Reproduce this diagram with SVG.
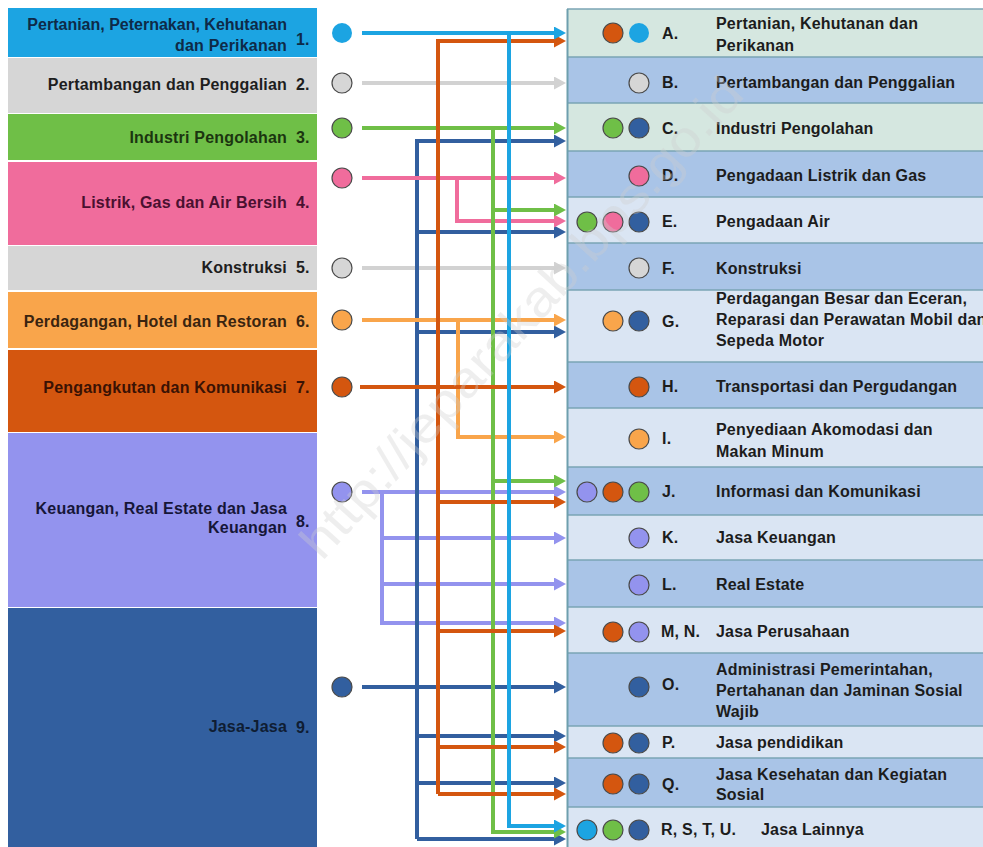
<svg xmlns="http://www.w3.org/2000/svg" width="983" height="847" viewBox="0 0 983 847">
<style>
text{font-family:"Liberation Sans",Arial,sans-serif;font-size:16px;font-weight:bold;letter-spacing:0.2px}
.lt{text-anchor:end}
.rt{fill:#1c1c1c}
.dot{stroke:#4a4a4a;stroke-width:1.2}
.ln{fill:none;stroke-width:4}
.sep{stroke:#7aa4b4;stroke-width:1.5}
.lg{fill:#d5e7e0}.lb{fill:#dae5f3}.bl{fill:#a9c4e7}
.c1{fill:#1ca4e2}.c2{fill:#d6d6d6}.c3{fill:#6fbf47}.c4{fill:#f06c9c}.c6{fill:#f9a54b}.c7{fill:#d4560f}.c8{fill:#9393ee}.c9{fill:#325f9f}
</style>
<defs>
<marker id="m1" markerUnits="userSpaceOnUse" markerWidth="13" markerHeight="13" refX="2" refY="6.5" orient="auto"><path d="M0,0 L12,6.5 L0,13 z" fill="#1ca4e2"/></marker>
<marker id="m2" markerUnits="userSpaceOnUse" markerWidth="13" markerHeight="13" refX="2" refY="6.5" orient="auto"><path d="M0,0 L12,6.5 L0,13 z" fill="#d2d2d2"/></marker>
<marker id="m3" markerUnits="userSpaceOnUse" markerWidth="13" markerHeight="13" refX="2" refY="6.5" orient="auto"><path d="M0,0 L12,6.5 L0,13 z" fill="#6fbf47"/></marker>
<marker id="m4" markerUnits="userSpaceOnUse" markerWidth="13" markerHeight="13" refX="2" refY="6.5" orient="auto"><path d="M0,0 L12,6.5 L0,13 z" fill="#f06c9c"/></marker>
<marker id="m6" markerUnits="userSpaceOnUse" markerWidth="13" markerHeight="13" refX="2" refY="6.5" orient="auto"><path d="M0,0 L12,6.5 L0,13 z" fill="#f9a54b"/></marker>
<marker id="m7" markerUnits="userSpaceOnUse" markerWidth="13" markerHeight="13" refX="2" refY="6.5" orient="auto"><path d="M0,0 L12,6.5 L0,13 z" fill="#d4560f"/></marker>
<marker id="m8" markerUnits="userSpaceOnUse" markerWidth="13" markerHeight="13" refX="2" refY="6.5" orient="auto"><path d="M0,0 L12,6.5 L0,13 z" fill="#9393ee"/></marker>
<marker id="m9" markerUnits="userSpaceOnUse" markerWidth="13" markerHeight="13" refX="2" refY="6.5" orient="auto"><path d="M0,0 L12,6.5 L0,13 z" fill="#325f9f"/></marker>
</defs>
<rect width="983" height="847" fill="#ffffff"/>

<!-- Left sectors -->
<g id="sector-1">
<rect x="8" y="8" width="309" height="49" class="c1"/>
<text class="lt" x="287" y="30" fill="#0e2a48" style="letter-spacing:0">Pertanian, Peternakan, Kehutanan</text>
<text class="lt" x="287" y="51" fill="#0e2a48">dan Perikanan</text>
<text x="296" y="45" fill="#0e2a48">1.</text>
<circle cx="342" cy="33" r="10" class="c1"/>
</g>
<g id="sector-2">
<rect x="8" y="58" width="309" height="55" class="c2"/>
<text class="lt" x="287" y="90" fill="#1e1e1e">Pertambangan dan Penggalian</text>
<text x="296" y="90" fill="#1e1e1e">2.</text>
<circle cx="342" cy="83" r="10" class="c2 dot"/>
</g>
<g id="sector-3">
<rect x="8" y="114" width="309" height="46" class="c3"/>
<text class="lt" x="287" y="143" fill="#1b3510">Industri Pengolahan</text>
<text x="296" y="143" fill="#1b3510">3.</text>
<circle cx="342" cy="128" r="10" class="c3 dot"/>
</g>
<g id="sector-4">
<rect x="8" y="162" width="309" height="83" class="c4"/>
<text class="lt" x="287" y="208" fill="#4a1030">Listrik, Gas dan Air Bersih</text>
<text x="296" y="208" fill="#4a1030">4.</text>
<circle cx="342" cy="178" r="10" class="c4 dot"/>
</g>
<g id="sector-5">
<rect x="8" y="246" width="309" height="44" class="c2"/>
<text class="lt" x="287" y="273" fill="#1e1e1e">Konstruksi</text>
<text x="296" y="273" fill="#1e1e1e">5.</text>
<circle cx="342" cy="268" r="10" class="c2 dot"/>
</g>
<g id="sector-6">
<rect x="8" y="292" width="309" height="56" class="c6"/>
<text class="lt" x="287" y="327" fill="#3a2410">Perdagangan, Hotel dan Restoran</text>
<text x="296" y="327" fill="#3a2410">6.</text>
<circle cx="342" cy="320" r="10" class="c6 dot"/>
</g>
<g id="sector-7">
<rect x="8" y="350" width="309" height="82" class="c7"/>
<text class="lt" x="287" y="393" fill="#3a1204">Pengangkutan dan Komunikasi</text>
<text x="296" y="393" fill="#3a1204">7.</text>
<circle cx="342" cy="387" r="10" class="c7 dot"/>
</g>
<g id="sector-8">
<rect x="8" y="433" width="309" height="174" class="c8"/>
<text class="lt" x="287" y="514" fill="#161638">Keuangan, Real Estate dan Jasa</text>
<text class="lt" x="287" y="533" fill="#161638">Keuangan</text>
<text x="296" y="527" fill="#161638">8.</text>
<circle cx="342" cy="492" r="10" class="c8 dot"/>
</g>
<g id="sector-9">
<rect x="8" y="608" width="309" height="239" class="c9"/>
<text class="lt" x="287" y="732" fill="#0f1d33">Jasa-Jasa</text>
<text x="296" y="733" fill="#0f1d33">9.</text>
<circle cx="342" cy="687" r="10" class="c9 dot"/>
</g>

<!-- Right rows -->
<g id="row-A">
<rect x="567" y="9" width="416" height="48" class="lg"/>
<circle cx="613" cy="33" r="10" class="c7 dot"/><circle cx="639" cy="33" r="10" class="c1"/>
<text class="rt" x="662" y="39">A.</text>
<text class="rt" x="716" y="29">Pertanian, Kehutanan dan</text>
<text class="rt" x="716" y="51">Perikanan</text>
</g>
<g id="row-B">
<rect x="567" y="57" width="416" height="46" class="bl"/>
<circle cx="639" cy="83" r="10" class="c2 dot"/>
<text class="rt" x="662" y="88">B.</text>
<text class="rt" x="716" y="88">Pertambangan dan Penggalian</text>
</g>
<g id="row-C">
<rect x="567" y="103" width="416" height="48" class="lg"/>
<circle cx="613" cy="128" r="10" class="c3 dot"/><circle cx="639" cy="128" r="10" class="c9 dot"/>
<text class="rt" x="662" y="134">C.</text>
<text class="rt" x="716" y="134">Industri Pengolahan</text>
</g>
<g id="row-D">
<rect x="567" y="151" width="416" height="46" class="bl"/>
<circle cx="639" cy="176" r="10" class="c4 dot"/>
<text class="rt" x="662" y="181">D.</text>
<text class="rt" x="716" y="181">Pengadaan Listrik dan Gas</text>
</g>
<g id="row-E">
<rect x="567" y="197" width="416" height="46" class="lb"/>
<circle cx="587" cy="222" r="10" class="c3 dot"/><circle cx="613" cy="222" r="10" class="c4 dot"/><circle cx="639" cy="222" r="10" class="c9 dot"/>
<text class="rt" x="662" y="227">E.</text>
<text class="rt" x="716" y="227">Pengadaan Air</text>
</g>
<g id="row-F">
<rect x="567" y="243" width="416" height="47" class="bl"/>
<circle cx="639" cy="268" r="10" class="c2 dot"/>
<text class="rt" x="662" y="274">F.</text>
<text class="rt" x="716" y="274">Konstruksi</text>
</g>
<g id="row-G">
<rect x="567" y="290" width="416" height="72" class="lb"/>
<circle cx="613" cy="321" r="10" class="c6 dot"/><circle cx="639" cy="321" r="10" class="c9 dot"/>
<text class="rt" x="662" y="327">G.</text>
<text class="rt" x="716" y="304">Perdagangan Besar dan Eceran,</text>
<text class="rt" x="716" y="325">Reparasi dan Perawatan Mobil dan</text>
<text class="rt" x="716" y="346">Sepeda Motor</text>
</g>
<g id="row-H">
<rect x="567" y="362" width="416" height="46" class="bl"/>
<circle cx="639" cy="387" r="10" class="c7 dot"/>
<text class="rt" x="662" y="392">H.</text>
<text class="rt" x="716" y="392">Transportasi dan Pergudangan</text>
</g>
<g id="row-I">
<rect x="567" y="408" width="416" height="59" class="lb"/>
<circle cx="639" cy="439" r="10" class="c6 dot"/>
<text class="rt" x="662" y="444">I.</text>
<text class="rt" x="716" y="435">Penyediaan Akomodasi dan</text>
<text class="rt" x="716" y="457">Makan Minum</text>
</g>
<g id="row-J">
<rect x="567" y="467" width="416" height="48" class="bl"/>
<circle cx="587" cy="492" r="10" class="c8 dot"/><circle cx="613" cy="492" r="10" class="c7 dot"/><circle cx="639" cy="492" r="10" class="c3 dot"/>
<text class="rt" x="662" y="497">J.</text>
<text class="rt" x="716" y="497">Informasi dan Komunikasi</text>
</g>
<g id="row-K">
<rect x="567" y="515" width="416" height="45" class="lb"/>
<circle cx="639" cy="538" r="10" class="c8 dot"/>
<text class="rt" x="662" y="543">K.</text>
<text class="rt" x="716" y="543">Jasa Keuangan</text>
</g>
<g id="row-L">
<rect x="567" y="560" width="416" height="47" class="bl"/>
<circle cx="639" cy="585" r="10" class="c8 dot"/>
<text class="rt" x="662" y="590">L.</text>
<text class="rt" x="716" y="590">Real Estate</text>
</g>
<g id="row-MN">
<rect x="567" y="607" width="416" height="46" class="lb"/>
<circle cx="613" cy="632" r="10" class="c7 dot"/><circle cx="639" cy="632" r="10" class="c8 dot"/>
<text class="rt" x="661" y="637">M, N.</text>
<text class="rt" x="716" y="637">Jasa Perusahaan</text>
</g>
<g id="row-O">
<rect x="567" y="653" width="416" height="73" class="bl"/>
<circle cx="639" cy="687" r="10" class="c9 dot"/>
<text class="rt" x="662" y="690">O.</text>
<text class="rt" x="716" y="675">Administrasi Pemerintahan,</text>
<text class="rt" x="716" y="696">Pertahanan dan Jaminan Sosial</text>
<text class="rt" x="716" y="717">Wajib</text>
</g>
<g id="row-P">
<rect x="567" y="726" width="416" height="32" class="lb"/>
<circle cx="613" cy="743" r="10" class="c7 dot"/><circle cx="639" cy="743" r="10" class="c9 dot"/>
<text class="rt" x="662" y="748">P.</text>
<text class="rt" x="716" y="748">Jasa pendidikan</text>
</g>
<g id="row-Q">
<rect x="567" y="758" width="416" height="49" class="bl"/>
<circle cx="613" cy="784" r="10" class="c7 dot"/><circle cx="639" cy="784" r="10" class="c9 dot"/>
<text class="rt" x="662" y="790">Q.</text>
<text class="rt" x="716" y="780">Jasa Kesehatan dan Kegiatan</text>
<text class="rt" x="716" y="800">Sosial</text>
</g>
<g id="row-R">
<rect x="567" y="807" width="416" height="40" class="lb"/>
<circle cx="587" cy="830" r="10" class="c1 dot"/><circle cx="613" cy="830" r="10" class="c3 dot"/><circle cx="639" cy="830" r="10" class="c9 dot"/>
<text class="rt" x="661" y="835">R, S, T, U.</text>
<text class="rt" x="761" y="835">Jasa Lainnya</text>
</g>
<g id="row-lines">
<line x1="567" y1="9" x2="983" y2="9" class="sep"/>
<line x1="567" y1="57" x2="983" y2="57" class="sep"/>
<line x1="567" y1="103" x2="983" y2="103" class="sep"/>
<line x1="567" y1="151" x2="983" y2="151" class="sep"/>
<line x1="567" y1="197" x2="983" y2="197" class="sep"/>
<line x1="567" y1="243" x2="983" y2="243" class="sep"/>
<line x1="567" y1="290" x2="983" y2="290" class="sep"/>
<line x1="567" y1="362" x2="983" y2="362" class="sep"/>
<line x1="567" y1="408" x2="983" y2="408" class="sep"/>
<line x1="567" y1="467" x2="983" y2="467" class="sep"/>
<line x1="567" y1="515" x2="983" y2="515" class="sep"/>
<line x1="567" y1="560" x2="983" y2="560" class="sep"/>
<line x1="567" y1="607" x2="983" y2="607" class="sep"/>
<line x1="567" y1="653" x2="983" y2="653" class="sep"/>
<line x1="567" y1="726" x2="983" y2="726" class="sep"/>
<line x1="567" y1="758" x2="983" y2="758" class="sep"/>
<line x1="567" y1="807" x2="983" y2="807" class="sep"/>
<line x1="567.5" y1="9" x2="567.5" y2="847" stroke="#6e9fae" stroke-width="2"/>
</g>

<!-- Connectors -->
<g id="connectors">
<path class="ln" stroke="#d2d2d2" marker-end="url(#m2)" d="M362,83 H556"/>
<path class="ln" stroke="#d2d2d2" marker-end="url(#m2)" d="M362,268 H556"/>
<path class="ln" stroke="#9393ee" marker-end="url(#m8)" d="M362,492 H556"/>
<path class="ln" stroke="#9393ee" marker-end="url(#m8)" d="M382,492 V623 H556"/>
<path class="ln" stroke="#9393ee" marker-end="url(#m8)" d="M382,538 H556"/>
<path class="ln" stroke="#9393ee" marker-end="url(#m8)" d="M382,584 H556"/>
<path class="ln" stroke="#325f9f" marker-end="url(#m9)" d="M417,839 V141 H556"/>
<path class="ln" stroke="#325f9f" marker-end="url(#m9)" d="M417,232 H556"/>
<path class="ln" stroke="#325f9f" marker-end="url(#m9)" d="M417,332 H556"/>
<path class="ln" stroke="#325f9f" marker-end="url(#m9)" d="M362,687 H556"/>
<path class="ln" stroke="#325f9f" marker-end="url(#m9)" d="M417,736 H556"/>
<path class="ln" stroke="#325f9f" marker-end="url(#m9)" d="M417,783 H556"/>
<path class="ln" stroke="#325f9f" marker-end="url(#m9)" d="M417,839 H556"/>
<path class="ln" stroke="#f06c9c" marker-end="url(#m4)" d="M362,178 H556"/>
<path class="ln" stroke="#f06c9c" marker-end="url(#m4)" d="M457,178 V221 H556"/>
<path class="ln" stroke="#f9a54b" marker-end="url(#m6)" d="M362,320 H556"/>
<path class="ln" stroke="#f9a54b" marker-end="url(#m6)" d="M458,320 V437 H556"/>
<path class="ln" stroke="#6fbf47" marker-end="url(#m3)" d="M362,128 H556"/>
<path class="ln" stroke="#6fbf47" marker-end="url(#m3)" d="M493,128 V832 H556"/>
<path class="ln" stroke="#6fbf47" marker-end="url(#m3)" d="M493,210 H556"/>
<path class="ln" stroke="#6fbf47" marker-end="url(#m3)" d="M493,481 H556"/>
<path class="ln" stroke="#d4560f" marker-end="url(#m7)" d="M438,794 V41 H556"/>
<path class="ln" stroke="#d4560f" marker-end="url(#m7)" d="M360,387 H556"/>
<path class="ln" stroke="#d4560f" marker-end="url(#m7)" d="M438,502 H556"/>
<path class="ln" stroke="#d4560f" marker-end="url(#m7)" d="M438,631 H556"/>
<path class="ln" stroke="#d4560f" marker-end="url(#m7)" d="M438,747 H556"/>
<path class="ln" stroke="#d4560f" marker-end="url(#m7)" d="M438,794 H556"/>
<path class="ln" stroke="#1ca4e2" marker-end="url(#m1)" d="M362,33 H556"/>
<path class="ln" stroke="#1ca4e2" marker-end="url(#m1)" d="M509,33 V826 H556"/>
</g>

<text id="watermark" x="322" y="562" transform="rotate(-47.7 322 562)" textLength="630" lengthAdjust="spacingAndGlyphs" style="font-size:50px;font-weight:normal;letter-spacing:0" fill="#cfcfcf" fill-opacity="0.35">http://jeparakab.bps.go.id</text>
</svg>
